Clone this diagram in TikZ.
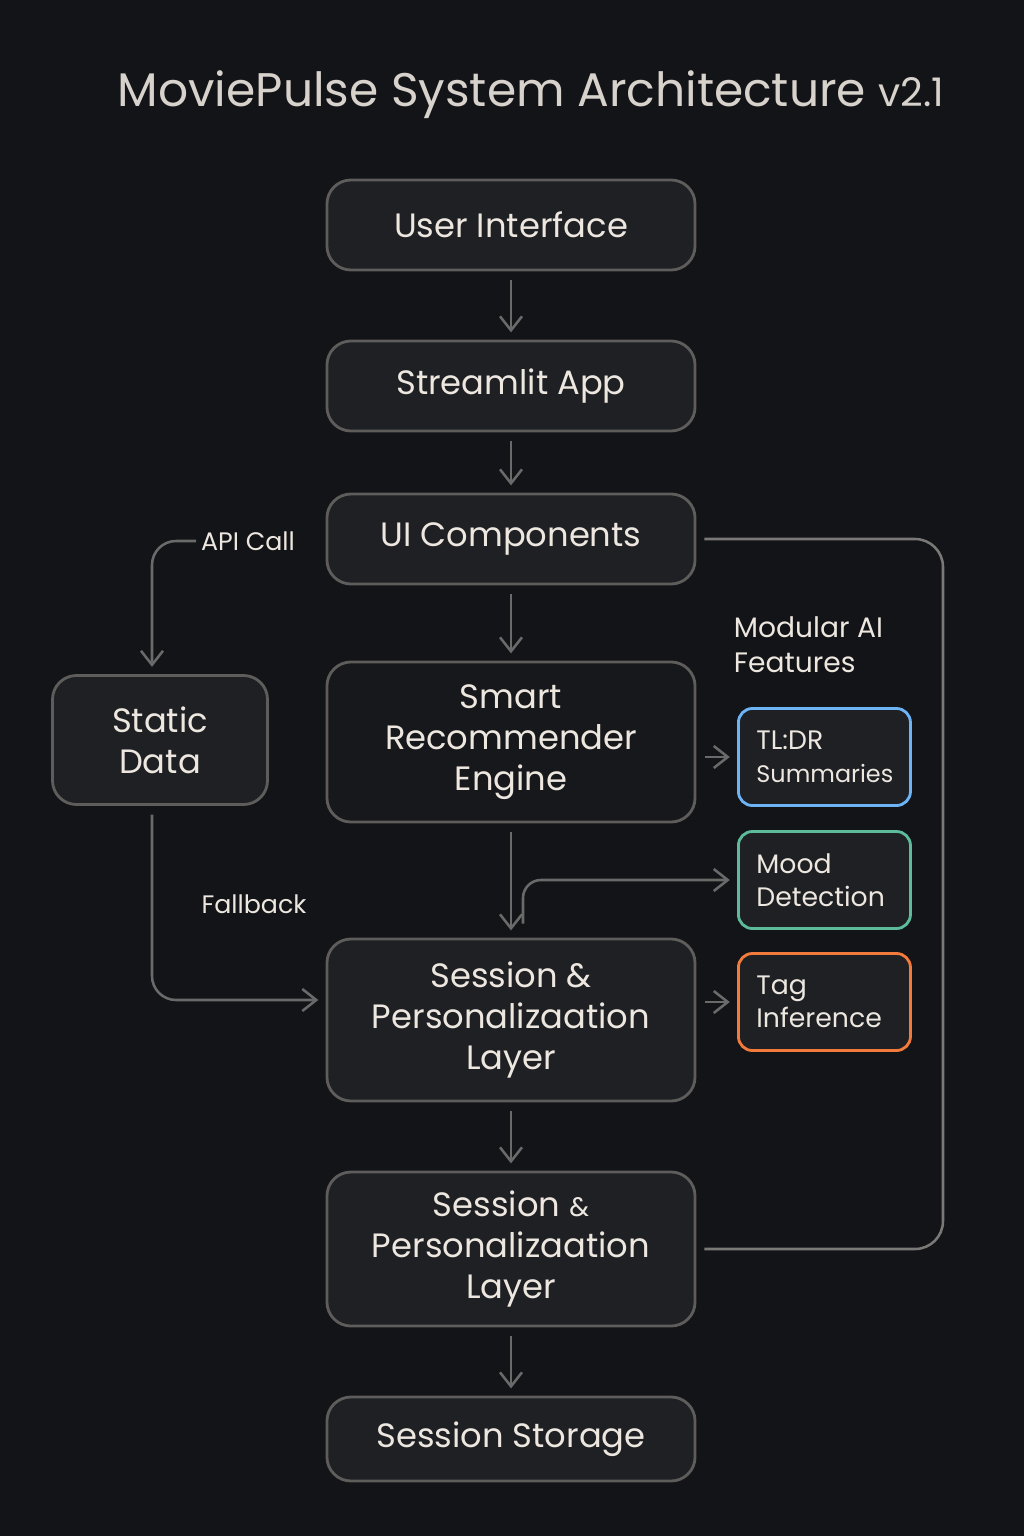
\documentclass[tikz,border=0pt]{standalone}
\usepackage{fontspec}
\setmainfont{Poppins}
\usepackage{xcolor}
\usetikzlibrary{arrows.meta,positioning}

\definecolor{bgdark}{HTML}{131417}
\definecolor{boxfill}{HTML}{1E2024}
\definecolor{boxdeep}{HTML}{17181B}
\definecolor{boxline}{HTML}{5E5D5B}
\definecolor{flowgray}{HTML}{6A6A6A}
\definecolor{loopgray}{HTML}{7A7978}
\definecolor{txtlight}{HTML}{EDE7E0}
\definecolor{titletxt}{HTML}{D8D2CC}
\definecolor{featblue}{HTML}{6CB4F5}
\definecolor{featgreen}{HTML}{5DBB9B}
\definecolor{featorange}{HTML}{F27B3C}

\tikzset{
  block/.style={draw=boxline, line width=2pt, fill=boxfill, rounded corners=0.6cm,
    minimum width=9.2cm, align=center, text=txtlight,
    font=\fontsize{24}{29}\selectfont},
  feature/.style={line width=2pt, fill=boxfill, rounded corners=0.35cm, anchor=west,
    minimum height=2.425cm, inner xsep=0.45cm, text width=3.4cm, align=left,
    text=txtlight, font=\fontsize{19}{23.5}\selectfont},
  flow/.style={draw=flowgray, line width=1.8pt,
    -{Straight Barb[length=0.35cm,width=0.55cm]},
    shorten <=0.22cm, shorten >=0.18cm},
  loopline/.style={draw=loopgray, line width=1.8pt},
  lbl/.style={text=txtlight, font=\fontsize{18}{21}\selectfont},
}

\begin{document}
\begin{tikzpicture}[x=0.025cm, y=-0.025cm]
    % canvas
    \fill[bgdark] (0,0) rectangle (1024,1536);
    \useasboundingbox (0,0) rectangle (1024,1536);

    \node[text=titletxt, font=\fontsize{33.5}{40}\selectfont] (title) at (531,95)
        {MoviePulse System Architecture {\fontsize{28}{34}\selectfont v2.1}};

    % main column
    \node[block, minimum height=2.25cm] (ui) at (511,225) {User Interface};
    \node[block, minimum height=2.25cm] (app) at (511,386) {Streamlit App};
    \node[block, minimum height=2.25cm] (comp) at (511,539) {UI Components};
    \node[block, minimum height=4cm, fill=boxdeep] (engine) at (511,742) {Smart\\Recommender\\Engine};
    \node[block, minimum height=4.05cm] (layer) at (511,1020) {Session \&\\Personalizaation\\Layer};
    \node[block, minimum height=3.85cm] (layertwo) at (511,1249)
        {Session {\fontsize{19}{24}\selectfont\&}\\Personalizaation\\Layer};
    \node[block, minimum height=2.1cm] (storage) at (511,1439) {Session Storage};

    \node[block, minimum width=5.375cm, minimum height=3.225cm] (static) at (160,740) {Static\\Data};

    % AI features
    \node[lbl, anchor=north west, align=left, font=\fontsize{20}{25}\selectfont] (modular) at (729,612)
        {Modular AI\\Features};
    \node[feature, draw=featblue] (tldr) at (737,757)
        {TL:DR\\{\fontsize{17}{20}\selectfont Summaries}};
    \node[feature, draw=featgreen] (mood) at (737,880) {Mood\\Detection};
    \node[feature, draw=featorange] (tag) at (737,1002) {Tag\\Inference};

    \node[lbl] (apicall) at (248,541) {API Call};
    \node[lbl] (fallback) at (254,904) {Fallback};

    % connectors
    \draw[flow] (ui) -- (app);
    \draw[flow] (app) -- (comp);
    \draw[flow] (comp) -- (engine);
    \draw[flow] (engine) -- (layer);
    \draw[flow] (layer) -- (layertwo);
    \draw[flow] (layertwo) -- (storage);

    \draw[flow, shorten <=0pt, rounded corners=0.6cm] (apicall.west) -| ([xshift=-0.2cm]static.north);
    \draw[flow, rounded corners=0.6cm] ([xshift=-0.2cm]static.south) |- ([yshift=0.5cm]layer.west);

    \draw[flow] (tldr.west -| engine.east) -- (tldr.west);
    \draw[flow, shorten <=0pt, rounded corners=0.45cm] ([xshift=0.3cm,yshift=0.35cm]layer.north) |- (mood.west);
    \draw[flow] (tag.west -| layer.east) -- (tag.west);

    \coordinate (loop) at (943,0);
    \draw[loopline, rounded corners=0.7cm] ([xshift=0.2cm]comp.east) -- (comp.east -| loop)
        -- (layertwo.east -| loop) -- ([xshift=0.2cm]layertwo.east);
\end{tikzpicture}
\end{document}
